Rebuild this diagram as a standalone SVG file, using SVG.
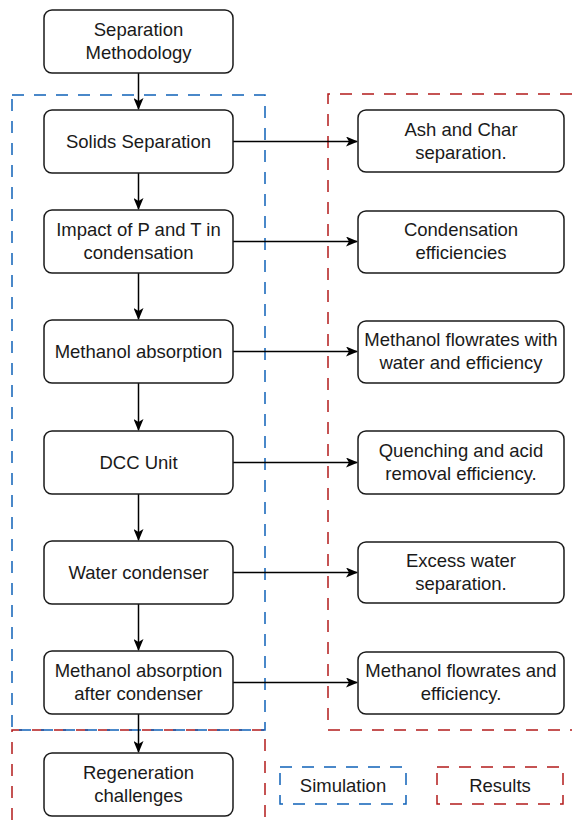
<svg xmlns="http://www.w3.org/2000/svg" width="572" height="820" viewBox="0 0 572 820">
<defs>
<style>
.box{fill:#fff;stroke:#1a1a1a;stroke-width:1.5}
.t{font-family:"Liberation Sans",Arial,sans-serif;font-size:18.5px;fill:#1a1a1a;text-anchor:middle}
.blue{fill:none;stroke:#0f62b8;stroke-width:1.5;stroke-dasharray:12 10}
.red{fill:none;stroke:#b31b1b;stroke-width:1.5;stroke-dasharray:12 10}
.edge{fill:none;stroke:#000;stroke-width:1.5}
</style>
<marker id="arr" viewBox="0 0 12 10" refX="11" refY="5" markerWidth="12" markerHeight="10" markerUnits="userSpaceOnUse" orient="auto">
<path d="M0,0 L12,5 L0,10 L3,5 Z" fill="#000"/>
</marker>
</defs>
<rect width="572" height="820" fill="#fff"/>

<g id="groups">
<path class="red" d="M12,820 V730 H265 V820"/>
<rect class="blue" x="12" y="95" width="253" height="635"/>
<path class="red" d="M572,94 H328 V730 H572"/>
</g>

<g id="connectors">
<path class="edge" marker-end="url(#arr)" d="M138.5,73 V109"/>
<path class="edge" marker-end="url(#arr)" d="M138.5,173 V209"/>
<path class="edge" marker-end="url(#arr)" d="M138.5,273 V319"/>
<path class="edge" marker-end="url(#arr)" d="M138.5,383 V430"/>
<path class="edge" marker-end="url(#arr)" d="M138.5,494 V540"/>
<path class="edge" marker-end="url(#arr)" d="M138.5,604 V650"/>
<path class="edge" marker-end="url(#arr)" d="M138.5,714 V752"/>
<path class="edge" marker-end="url(#arr)" d="M233,141.5 H357"/>
<path class="edge" marker-end="url(#arr)" d="M233,241.5 H357"/>
<path class="edge" marker-end="url(#arr)" d="M233,351.5 H357"/>
<path class="edge" marker-end="url(#arr)" d="M233,462.5 H357"/>
<path class="edge" marker-end="url(#arr)" d="M233,572.5 H357"/>
<path class="edge" marker-end="url(#arr)" d="M233,682.5 H357"/>
</g>

<g id="n-sepmeth"><rect class="box" x="44" y="10" width="189" height="63" rx="8"/><text class="t" x="138.5" y="36">Separation</text><text class="t" x="138.5" y="59.3">Methodology</text></g>
<g id="n-solids"><rect class="box" x="44" y="110" width="189" height="63" rx="8"/><text class="t" x="138.5" y="148">Solids Separation</text></g>
<g id="n-impact"><rect class="box" x="44" y="210" width="189" height="63" rx="8"/><text class="t" x="138.5" y="236">Impact of P and T in</text><text class="t" x="138.5" y="259.3">condensation</text></g>
<g id="n-methabs"><rect class="box" x="44" y="320" width="189" height="63" rx="8"/><text class="t" x="138.5" y="358">Methanol absorption</text></g>
<g id="n-dcc"><rect class="box" x="44" y="431" width="189" height="63" rx="8"/><text class="t" x="138.5" y="469">DCC Unit</text></g>
<g id="n-water"><rect class="box" x="44" y="541" width="189" height="63" rx="8"/><text class="t" x="138.5" y="579">Water condenser</text></g>
<g id="n-methabs2"><rect class="box" x="44" y="651" width="189" height="63" rx="8"/><text class="t" x="138.5" y="677">Methanol absorption</text><text class="t" x="138.5" y="700.3">after condenser</text></g>
<g id="n-regen"><rect class="box" x="44" y="753" width="189" height="63" rx="8"/><text class="t" x="138.5" y="779">Regeneration</text><text class="t" x="138.5" y="802.3">challenges</text></g>

<g id="r-ash"><rect class="box" x="358" y="110" width="206" height="62" rx="8"/><text class="t" x="461" y="136">Ash and Char</text><text class="t" x="461" y="159.3">separation.</text></g>
<g id="r-cond"><rect class="box" x="358" y="211" width="206" height="62" rx="8"/><text class="t" x="461" y="236">Condensation</text><text class="t" x="461" y="259.3">efficiencies</text></g>
<g id="r-methflow"><rect class="box" x="358" y="321" width="206" height="62" rx="8"/><text class="t" x="461" y="346">Methanol flowrates with</text><text class="t" x="461" y="369.3">water and efficiency</text></g>
<g id="r-quench"><rect class="box" x="358" y="431" width="206" height="63" rx="8"/><text class="t" x="461" y="457">Quenching and acid</text><text class="t" x="461" y="480.3">removal efficiency.</text></g>
<g id="r-excess"><rect class="box" x="358" y="542" width="206" height="61" rx="8"/><text class="t" x="461" y="567">Excess water</text><text class="t" x="461" y="590.3">separation.</text></g>
<g id="r-methflow2"><rect class="box" x="358" y="652" width="206" height="62" rx="8"/><text class="t" x="461" y="677">Methanol flowrates and</text><text class="t" x="461" y="700.3">efficiency.</text></g>

<g id="legend-sim"><rect class="blue" x="280" y="767" width="126" height="37"/><text class="t" x="343" y="792">Simulation</text></g>
<g id="legend-res"><rect class="red" x="437" y="767" width="126" height="37"/><text class="t" x="500" y="792">Results</text></g>
</svg>
